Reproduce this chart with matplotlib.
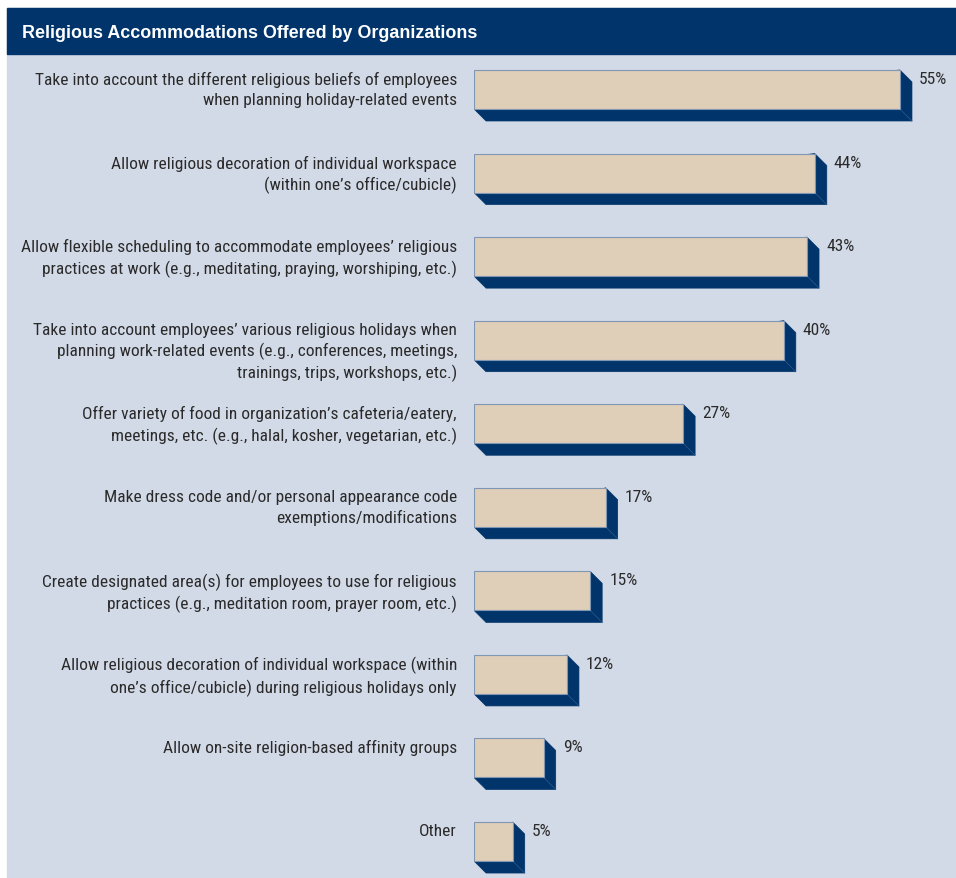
#!/usr/bin/env python3
"""Religious accommodations offered by organizations - 3D-style horizontal bars."""
import matplotlib
matplotlib.use("Agg")
import matplotlib.pyplot as plt
from matplotlib import font_manager as fm
from matplotlib.patches import Rectangle, Polygon

TITLE = "Religious Accommodations Offered by Organizations"

categories = [
    "Take into account the different religious beliefs of employees\nwhen planning holiday-related events",
    "Allow religious decoration of individual workspace\n(within one\u2019s office/cubicle)",
    "Allow flexible scheduling to accommodate employees\u2019 religious\npractices at work (e.g., meditating, praying, worshiping, etc.)",
    "Take into account employees\u2019 various religious holidays when\nplanning work-related events (e.g., conferences, meetings,\ntrainings, trips, workshops, etc.)",
    "Offer variety of food in organization\u2019s cafeteria/eatery,\nmeetings, etc. (e.g., halal, kosher, vegetarian, etc.)",
    "Make dress code and/or personal appearance code\nexemptions/modifications",
    "Create designated area(s) for employees to use for religious\npractices (e.g., meditation room, prayer room, etc.)",
    "Allow religious decoration of individual workspace (within\none\u2019s office/cubicle) during religious holidays only",
    "Allow on-site religion-based affinity groups",
    "Other",
]
values = [55, 44, 43, 40, 27, 17, 15, 12, 9, 5]

NAVY = "#00346a"
PANEL = "#d3dae7"
BAR = "#dfceb8"
TEXT = "#2a2a2a"

W, H = 956, 879

# a narrow grotesque if one is around, else plain Liberation Sans
installed = {f.name for f in fm.fontManager.ttflist}
narrow = [n for n in ("Liberation Sans Narrow", "Arial Narrow", "Roboto Condensed",
                      "Archivo Narrow", "PT Sans Narrow") if n in installed]
FONT = narrow[:1] + ["Liberation Sans", "DejaVu Sans"]

fig = plt.figure(figsize=(W / 100, H / 100), dpi=100)
fig.patch.set_facecolor("white")

# size the label font so the longest first line is ~421 px wide, as in the source
probe = fig.text(0, 0, categories[0].split("\n")[0], fontsize=12, family=FONT)
renderer = fig.canvas.get_renderer()
LABEL_SIZE = 12 * 421 / probe.get_window_extent(renderer).width
probe.remove()

# panel + title bar (figure pixel layout)
fig.patches.append(Rectangle((7 / W, 0), 1 - 7 / W, 1 - 9 / H,
                             transform=fig.transFigure, color=PANEL, zorder=-5))
fig.patches.append(Rectangle((7 / W, 1 - 55 / H), 1 - 7 / W, 46 / H,
                             transform=fig.transFigure, color=NAVY, zorder=-4))
fig.text(22 / W, 1 - 33 / H, TITLE, color="white", fontsize=12.9,
         fontweight="bold", va="center", ha="left", family="Liberation Sans")

# axes: x in percent, y in bar index
x0_px, px_per_pct = 474, 7.745
row_px, first_center_px = 83.56, 90.5
top_px = 55
ax = fig.add_axes([x0_px / W, 0, 1 - x0_px / W, 1 - top_px / H])
ax.set_xlim(0, (W - x0_px) / px_per_pct)
ax.set_ylim((H - first_center_px) / row_px, (top_px - first_center_px) / row_px)
ax.axis("off")

bar_h = 39 / row_px
dx = 12 / px_per_pct
dy = 12 / row_px

for i, (cat, v) in enumerate(zip(categories, values)):
    top = i - bar_h / 2
    bot = i + bar_h / 2
    shadow = Polygon([(0, bot), (dx, bot + dy), (v + dx, bot + dy),
                      (v + dx, top + dy), (v, top)],
                     closed=True, facecolor=NAVY, edgecolor=NAVY, lw=0.5, zorder=2)
    ax.add_patch(shadow)
    ax.plot([v, v + dx], [bot, bot + dy], color="#2a5488", lw=0.6, zorder=2.5)
    ax.barh(i, v, height=bar_h, color=BAR, edgecolor="#7f96b5", lw=0.8, zorder=3)

    ax.text(-17 / px_per_pct, top + 1 / row_px, cat, ha="right", va="top",
            fontsize=LABEL_SIZE, color=TEXT, linespacing=1.38, family=FONT,
            clip_on=False)
    ax.text(v + dx + 7 / px_per_pct, top + 1 / row_px, f"{v}%", ha="left", va="top",
            fontsize=LABEL_SIZE, color=TEXT, family=FONT, clip_on=False)

fig.savefig("out.png", dpi=100, facecolor=fig.get_facecolor())
